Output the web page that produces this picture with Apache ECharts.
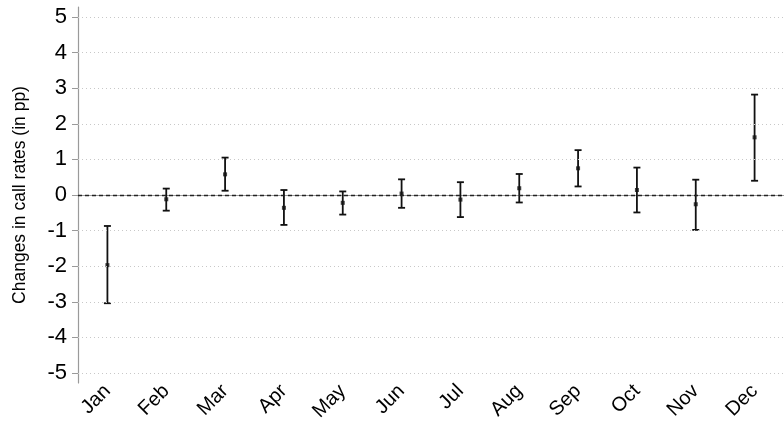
<!DOCTYPE html>
<html>
<head>
<meta charset="utf-8">
<style>
  html, body { margin: 0; padding: 0; background: #fff; }
  #chart { width: 784px; height: 427px; }
</style>
<script src="https://cdn.jsdelivr.net/npm/echarts@6/dist/echarts.min.js"></script>
</head>
<body>
<div id="chart"></div>
<script>
// Monthly changes in call rates with confidence intervals (percentage points)
const months = ['Jan', 'Feb', 'Mar', 'Apr', 'May', 'Jun', 'Jul', 'Aug', 'Sep', 'Oct', 'Nov', 'Dec'];
const estimate = [-1.97, -0.12, 0.58, -0.36, -0.22, 0.04, -0.13, 0.19, 0.75, 0.14, -0.26, 1.62];
const lower = [-3.04, -0.44, 0.12, -0.84, -0.55, -0.36, -0.62, -0.21, 0.24, -0.49, -0.98, 0.40];
const upper = [-0.87, 0.18, 1.05, 0.14, 0.10, 0.44, 0.36, 0.59, 1.26, 0.77, 0.43, 2.82];
const yTicks = [-5, -4, -3, -2, -1, 0, 1, 2, 3, 4, 5];

const FONT = 'Liberation Sans, Arial, sans-serif';
const chart = echarts.init(document.getElementById('chart'), null, { renderer: 'canvas' });

const intervals = months.map((m, i) => [i, lower[i], upper[i]]);
const points = months.map((m, i) => [i, estimate[i]]);

// Horizontal reference lines: dotted grid at each tick, dashed line at zero
const gridLines = yTicks.filter(v => v !== 0).map(v => ({
  yAxis: v,
  lineStyle: { color: '#c8c8c8', width: 1, type: [1, 3] }
}));
gridLines.push({ yAxis: 0, lineStyle: { color: '#222', width: 1.3, type: [4, 3] } });

chart.setOption({
  animation: false,
  backgroundColor: '#fff',
  grid: { left: 78, right: -2, top: 7, bottom: 44 },
  xAxis: {
    type: 'category',
    data: months,
    boundaryGap: true,
    axisLine: { lineStyle: { color: '#9a9a9a', width: 1.2 } },
    axisTick: { alignWithLabel: true, length: 6, lineStyle: { color: '#9a9a9a' } },
    axisLabel: { rotate: 45, color: '#000', fontFamily: FONT, fontSize: 20, margin: 5 },
    splitLine: { show: false }
  },
  yAxis: {
    type: 'value',
    min: -5.28,
    max: 5.28,
    name: 'Changes in call rates (in pp)',
    nameLocation: 'middle',
    nameGap: 49,
    nameTextStyle: { color: '#000', fontFamily: FONT, fontSize: 17.5 },
    axisLine: { show: true, lineStyle: { color: '#9a9a9a', width: 1.2 } },
    axisTick: { show: true, length: 6, customValues: yTicks, lineStyle: { color: '#9a9a9a' } },
    axisLabel: { customValues: yTicks, color: '#000', fontFamily: FONT, fontSize: 22, margin: 11 },
    splitLine: { show: false }
  },
  series: [
    {
      type: 'custom',
      data: intervals,
      encode: { x: 0, y: [1, 2] },
      silent: true,
      renderItem: function (params, api) {
        const x = api.value(0);
        const top = api.coord([x, api.value(2)]);
        const bot = api.coord([x, api.value(1)]);
        const hw = 3.5;
        const style = { stroke: '#111', lineWidth: 1.8 };
        return {
          type: 'group',
          children: [
            { type: 'line', shape: { x1: top[0], y1: top[1], x2: bot[0], y2: bot[1] }, style: style },
            { type: 'line', shape: { x1: top[0] - hw, y1: top[1], x2: top[0] + hw, y2: top[1] }, style: style },
            { type: 'line', shape: { x1: bot[0] - hw, y1: bot[1], x2: bot[0] + hw, y2: bot[1] }, style: style }
          ]
        };
      },
      markLine: {
        silent: true,
        symbol: 'none',
        label: { show: false },
        data: gridLines
      },
      z: 3
    },
    {
      type: 'scatter',
      data: points,
      symbol: 'rect',
      symbolSize: 4,
      itemStyle: { color: '#111' },
      silent: true,
      z: 4
    }
  ]
});
</script>
</body>
</html>
